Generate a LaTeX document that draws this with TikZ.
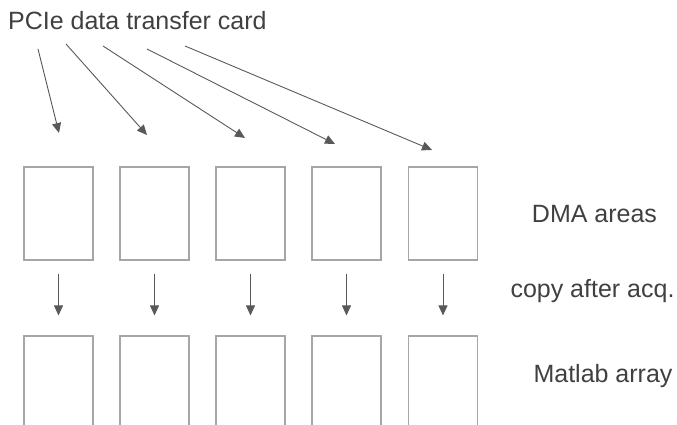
\documentclass[tikz,border=0pt]{standalone}
\usepackage{fontspec}
\setmainfont{Liberation Sans}
\usepackage{tikz}
\usetikzlibrary{arrows.meta}
\definecolor{boxgray}{HTML}{A6A6A6}
\definecolor{arrowgray}{HTML}{595959}
\definecolor{textgray}{HTML}{404040}

\tikzset{
  buffer/.style={draw=boxgray,line width=1.1pt,minimum width=69pt,minimum height=93pt,inner sep=0pt},
  arr/.style={arrowgray,line width=0.9pt,-{Triangle[length=10pt,width=9pt]}},
  lbl/.style={text=textgray,font=\fontsize{25}{30}\selectfont,inner sep=0pt}
}

\begin{document}
\begin{tikzpicture}[x=1pt,y=-1pt]
    \clip (0,0) rectangle (677,425);
    \node[lbl,anchor=base west] (card) at (8,30) {PCIe data transfer card};
    % DMA areas and the Matlab array below them (cut off at the bottom)
    \foreach \i/\x in {1/58.5,2/154.5,3/250.5,4/346.5,5/443} {
      \node[buffer] (dma\i) at (\x,213.5) {};
      \node[buffer,minimum height=110pt] (mat\i) at (\x,391) {};
      \draw[arr] ([yshift=-13pt]dma\i.south) -- ([yshift=20pt]mat\i.north);
    }
    % arrows from the card into the DMA areas
    \foreach \i/\sx/\sy/\ex/\ey in {1/38/49/59/133,2/66/44/147/135,3/103/46/245/138,4/147/49/335/144,5/185/46/432/150} {
      \coordinate (src\i) at (\sx,\sy);
      \coordinate (dst\i) at (\ex,\ey);
      \draw[arr] (src\i) -- (dst\i);
    }
    \node[lbl,anchor=base] (dmalbl) at (594.5,222.5) {DMA areas};
    \node[lbl,anchor=base] (copylbl) at (592.5,297) {copy after acq.};
    \node[lbl,anchor=base] (matlbl) at (603,382.5) {Matlab array};
\end{tikzpicture}
\end{document}
